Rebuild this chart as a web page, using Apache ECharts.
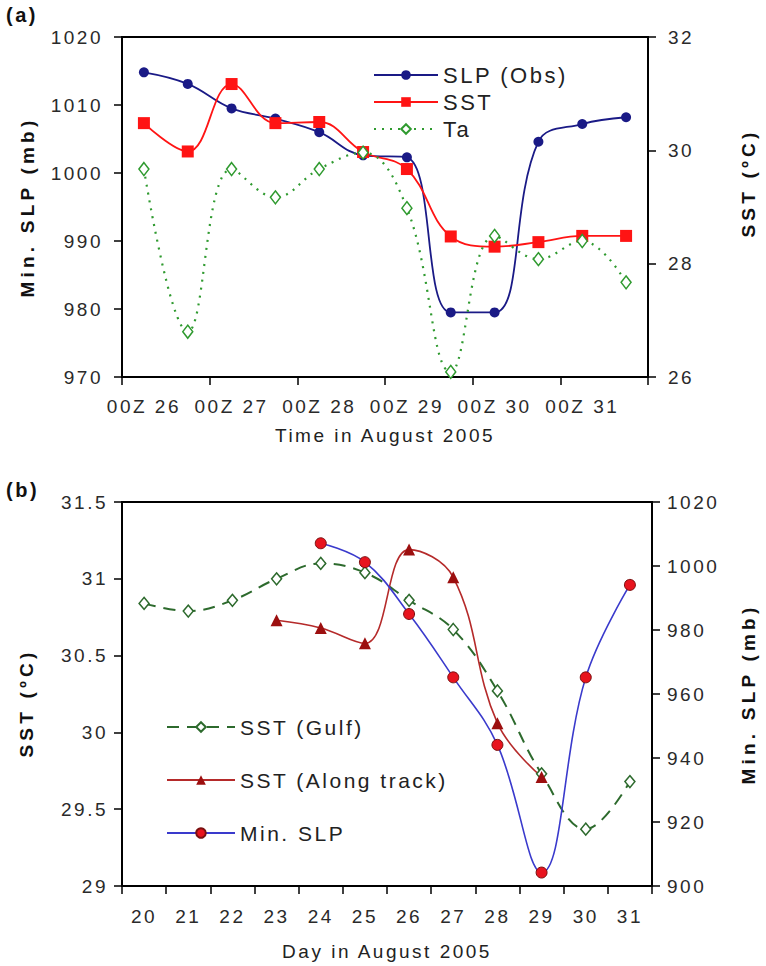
<!DOCTYPE html>
<html lang="en">
<head>
<meta charset="UTF-8">
<title>SLP and SST, August 2005</title>
<script src="https://cdn.jsdelivr.net/npm/echarts@6.0.0/dist/echarts.min.js"></script>
<style>
  * { margin: 0; padding: 0; box-sizing: border-box; }
  body { background: #fff; }
  #chart { width: 766px; height: 966px; }
  /* the original lettering is widely spaced */
  #chart svg text, #chart svg tspan { letter-spacing: 2.5px; }
  #chart svg text[style*="bold"], #chart svg text[font-weight="bold"],
  #chart svg text[style*="bold"] tspan { letter-spacing: 4.2px !important; }
</style>
</head>
<body>
<div id="chart"></div>
<script>
// ---- panel (a): 12-hourly from 00Z 26 to 12Z 31
const timesA = ['00Z 26', '12Z 26', '00Z 27', '12Z 27', '00Z 28', '12Z 28',
                '00Z 29', '12Z 29', '00Z 30', '12Z 30', '00Z 31', '12Z 31'];
const slpObs = [1014.8, 1013.1, 1009.5, 1008.0, 1006.0, 1002.6, 1002.3, 979.5, 979.5, 1004.6, 1007.2, 1008.2];
const sstA   = [30.48, 29.98, 31.17, 30.48, 30.5, 29.97, 29.67, 28.48, 28.30, 28.38, 28.49, 28.49];
const taA    = [29.67, 26.80, 29.67, 29.17, 29.67, 29.96, 28.98, 26.09, 28.49, 28.08, 28.40, 27.67];

// ---- panel (b): daily, 20 to 31 August
const daysB    = ['20', '21', '22', '23', '24', '25', '26', '27', '28', '29', '30', '31'];
const sstGulf  = [30.84, 30.79, 30.86, 31.00, 31.10, 31.04, 30.86, 30.67, 30.27, 29.73, 29.37, 29.68];
const sstTrack = [null, null, null, 30.73, 30.68, 30.58, 31.19, 31.01, 30.06, 29.71, null, null];
const minSlp   = [null, null, null, null, 1007.1, 1001.2, 985.0, 965.2, 944.1, 904.2, 965.2, 994.1];

const font = "'Liberation Sans', Arial, sans-serif";

const plain = (v) => String(v);   // no thousands separator
const tickLabel = { color: '#2a2a2a', fontSize: 19, fontFamily: font };
const axisLine = { show: true, lineStyle: { color: '#000', width: 2 } };
const axisTick = { show: true, inside: false, length: 8, lineStyle: { color: '#000', width: 1.5 } };
const titleStyle = { color: '#111', fontSize: 19, fontWeight: 'bold', fontFamily: font };
const xNameStyle = { color: '#222', fontSize: 19, fontFamily: font };

const chart = echarts.init(document.getElementById('chart'), null, { renderer: 'svg' });

chart.setOption({
    animation: false,
    backgroundColor: '#fff',
    grid: [
        { left: 122, right: 114, top: 37, height: 340, show: true, borderColor: '#000', borderWidth: 2 },
        { left: 122, right: 114, top: 502, height: 384, show: true, borderColor: '#000', borderWidth: 2 }
    ],
    graphic: [
        { type: 'text', left: 6, top: 5, style: { text: '(a)', font: '700 20px ' + font, fill: '#111' } },
        { type: 'text', left: 6, top: 480, style: { text: '(b)', font: '700 20px ' + font, fill: '#111' } }
    ],
    legend: [
        {
            orient: 'vertical', left: 373, top: 63, padding: 0,
            itemWidth: 64, itemHeight: 12, itemGap: 3,
            textStyle: { fontSize: 22, lineHeight: 24, color: '#222', fontFamily: font },
            data: ['SLP (Obs)', 'SST', 'Ta']
        },
        {
            orient: 'vertical', left: 166, top: 716, padding: 0,
            itemWidth: 68, itemHeight: 12, itemGap: 31,
            textStyle: { fontSize: 21, lineHeight: 22, color: '#222', fontFamily: font },
            data: ['SST (Gulf)', 'SST (Along track)', 'Min. SLP']
        }
    ],
    xAxis: [
        {
            gridIndex: 0, type: 'category', data: timesA, boundaryGap: true,
            axisLine: axisLine, axisTick: axisTick,
            axisLabel: Object.assign({ interval: 1, margin: 20 }, tickLabel),
            name: 'Time in August 2005', nameLocation: 'middle', nameGap: 49, nameTextStyle: xNameStyle
        },
        {
            gridIndex: 1, type: 'category', data: daysB, boundaryGap: true,
            axisLine: axisLine, axisTick: axisTick,
            axisLabel: Object.assign({ interval: 0, margin: 21 }, tickLabel),
            name: 'Day in August 2005', nameLocation: 'middle', nameGap: 56, nameTextStyle: xNameStyle
        }
    ],
    yAxis: [
        {
            gridIndex: 0, type: 'value', position: 'left', min: 970, max: 1020, interval: 10,
            axisLine: axisLine, axisTick: axisTick, splitLine: { show: false },
            axisLabel: Object.assign({ margin: 19, formatter: plain }, tickLabel),
            name: 'Min. SLP (mb)', nameLocation: 'middle', nameGap: 85, nameTextStyle: titleStyle
        },
        {
            gridIndex: 0, type: 'value', position: 'right', min: 26, max: 32, interval: 2,
            axisLine: axisLine, axisTick: axisTick, splitLine: { show: false },
            axisLabel: Object.assign({ margin: 20, formatter: plain }, tickLabel),
            name: 'SST (ºC)', nameLocation: 'middle', nameGap: 91,
            nameTextStyle: Object.assign({ padding: [0, 0, 0, 48] }, titleStyle)
        },
        {
            gridIndex: 1, type: 'value', position: 'left', min: 29, max: 31.5, interval: 0.5,
            axisLine: axisLine, axisTick: axisTick, splitLine: { show: false },
            axisLabel: Object.assign({ margin: 14, formatter: plain }, tickLabel),
            name: 'SST (ºC)', nameLocation: 'middle', nameGap: 86,
            nameTextStyle: Object.assign({ padding: [0, 18, 0, 0] }, titleStyle)
        },
        {
            gridIndex: 1, type: 'value', position: 'right', min: 900, max: 1020, interval: 20,
            axisLine: axisLine, axisTick: axisTick, splitLine: { show: false },
            axisLabel: Object.assign({ margin: 15, formatter: plain }, tickLabel),
            name: 'Min. SLP (mb)', nameLocation: 'middle', nameGap: 87, nameTextStyle: titleStyle
        }
    ],
    series: [
        {
            name: 'SLP (Obs)', type: 'line', xAxisIndex: 0, yAxisIndex: 0, data: slpObs,
            smooth: 0.4, symbol: 'circle', symbolSize: 10,
            itemStyle: { color: '#1a1a86' }, lineStyle: { color: '#1a1a86', width: 1.8 }
        },
        {
            name: 'SST', type: 'line', xAxisIndex: 0, yAxisIndex: 1, data: sstA,
            smooth: 0.4, symbol: 'rect', symbolSize: 12,
            itemStyle: { color: '#ff1414' }, lineStyle: { color: '#ff1414', width: 1.8 }
        },
        {
            name: 'Ta', type: 'line', xAxisIndex: 0, yAxisIndex: 1, data: taA,
            smooth: 0.4, symbol: 'diamond', symbolSize: [10, 13],
            itemStyle: { color: '#fff', borderColor: '#2f9a2f', borderWidth: 1.5 },
            lineStyle: { color: '#2f9a2f', width: 2.2, type: [2, 6] }
        },
        {
            name: 'SST (Gulf)', type: 'line', xAxisIndex: 1, yAxisIndex: 2, data: sstGulf,
            smooth: 0.4, symbol: 'diamond', symbolSize: [10, 12],
            itemStyle: { color: '#fff', borderColor: '#2d6a2d', borderWidth: 1.5 },
            lineStyle: { color: '#2d6a2d', width: 2, type: [12, 8] }
        },
        {
            name: 'SST (Along track)', type: 'line', xAxisIndex: 1, yAxisIndex: 2, data: sstTrack,
            smooth: 0.4, symbol: 'triangle', symbolSize: 12,
            itemStyle: { color: '#9c0f0f' }, lineStyle: { color: '#b52a2a', width: 1.6 }
        },
        {
            name: 'Min. SLP', type: 'line', xAxisIndex: 1, yAxisIndex: 3, data: minSlp,
            smooth: 0.4, symbol: 'circle', symbolSize: 11,
            itemStyle: { color: '#e8141e', borderColor: '#7a1010', borderWidth: 1 },
            lineStyle: { color: '#3a3acc', width: 1.6 }
        }
    ]
});
</script>
</body>
</html>
